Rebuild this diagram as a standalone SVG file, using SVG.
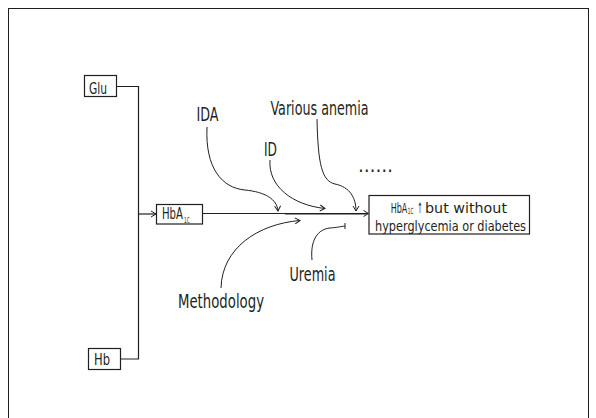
<svg xmlns="http://www.w3.org/2000/svg" width="596" height="418" viewBox="0 0 596 418">
<style>
.box{fill:#fff;stroke:#231f20;stroke-width:1.2}
.ln{fill:none;stroke:#231f20;stroke-width:1.2}
.cv{fill:none;stroke:#231f20;stroke-width:1}
text{font-family:"Liberation Sans Narrow","DejaVu Sans Condensed","Liberation Sans",sans-serif;fill:#231f20}
.lb{font-size:19px}
.sm{font-size:16px}
.bx{font-size:14.5px}
</style>
<defs>
<marker id="ah" markerWidth="8" markerHeight="8" refX="6" refY="4" orient="auto" markerUnits="userSpaceOnUse">
<path d="M1,1 L6,4 L1,7" fill="none" stroke="#231f20" stroke-width="1"/>
</marker>
</defs>
<rect x="8.5" y="8.5" width="580" height="420" fill="#fff" stroke="#231f20" stroke-width="1"/>
<g id="connectors">
<path class="ln" d="M116.5,86.5 H138.5 V359 H120.5"/>
<path class="ln" d="M138.5,214 H156" marker-end="url(#ah)"/>
<path class="ln" d="M203,213.5 H368.5" marker-end="url(#ah)"/>
<path class="ln" d="M285,214 H366"/>
<path class="cv" d="M207,127 C205,168 222,188 245,190 C265,192 277,199 278,211" marker-end="url(#ah)"/>
<path class="cv" d="M270,160 C268,186 292,205 325,208.5" marker-end="url(#ah)"/>
<path class="cv" d="M317,119 C318,165 322,181 335,184 C350,187 356,198 356,211" marker-end="url(#ah)"/>
<path class="cv" d="M221,288 C222,248 258,224 300,220.5" marker-end="url(#ah)"/>
<path class="cv" d="M312,260 C310,240 318,229 330,228 C337,227.5 341,226.5 345,226"/>
<path class="cv" d="M345,223 V229"/>
</g>
<g id="glu">
<rect class="box" x="84.5" y="75.5" width="32" height="21"/>
<text class="sm" x="89" y="93.5" textLength="18" lengthAdjust="spacingAndGlyphs">Glu</text>
</g>
<g id="hb">
<rect class="box" x="88.5" y="348.5" width="32" height="21"/>
<text class="sm" x="94" y="365" textLength="16" lengthAdjust="spacingAndGlyphs">Hb</text>
</g>
<g id="hba1c">
<rect class="box" x="156.5" y="204.5" width="46" height="19.5"/>
<text transform="translate(162,218.5) scale(0.75,1)" font-size="15" textLength="28" lengthAdjust="spacingAndGlyphs">HbA</text>
<text transform="translate(184,223) scale(0.62,1)" font-size="8" textLength="8.9" lengthAdjust="spacingAndGlyphs">1C</text>
</g>
<g id="result">
<rect class="box" x="369" y="195.5" width="160.5" height="38.5"/>
<text class="bx" transform="translate(390.7,213) scale(0.6,1)" textLength="27.7" lengthAdjust="spacingAndGlyphs">HbA</text>
<text transform="translate(407.8,214.2) scale(0.6,1)" font-size="8.5" textLength="9.2" lengthAdjust="spacingAndGlyphs">1C</text>
<text transform="translate(417.3,213) scale(0.45,1)" font-size="14.5" font-family="DejaVu Sans, sans-serif" textLength="12" lengthAdjust="spacingAndGlyphs">↑</text>
<text class="bx" transform="translate(425,213) scale(1.05,1)" textLength="78.1" lengthAdjust="spacingAndGlyphs">but without</text>
<text class="bx" x="375" y="230.5" textLength="151" lengthAdjust="spacingAndGlyphs">hyperglycemia or diabetes</text>
</g>
<g id="ida"><text class="lb" x="196.5" y="121" textLength="22" lengthAdjust="spacingAndGlyphs">IDA</text></g>
<g id="id"><text class="lb" x="264" y="156" textLength="13" lengthAdjust="spacingAndGlyphs">ID</text></g>
<g id="various"><text class="lb" x="270.5" y="114.5" textLength="98" lengthAdjust="spacingAndGlyphs">Various anemia</text></g>
<g id="dots"><text class="lb" x="358" y="172" textLength="35" lengthAdjust="spacingAndGlyphs">……</text></g>
<g id="methodology"><text class="lb" x="178" y="308" textLength="86" lengthAdjust="spacingAndGlyphs">Methodology</text></g>
<g id="uremia"><text class="lb" x="289.5" y="281" textLength="46" lengthAdjust="spacingAndGlyphs">Uremia</text></g>
</svg>
